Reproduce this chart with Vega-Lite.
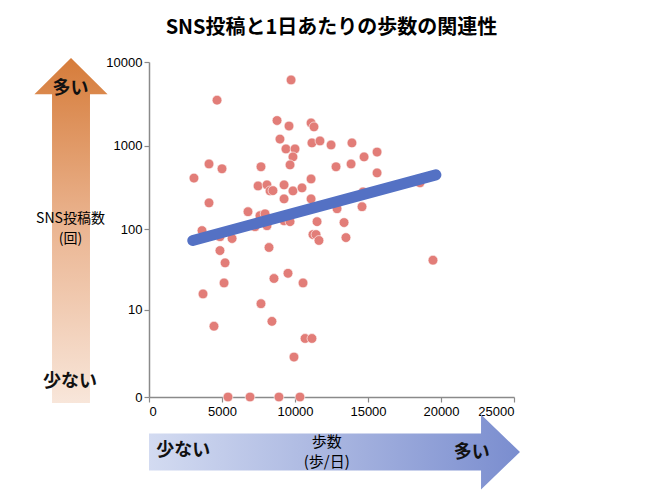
{
  "$schema": "https://vega.github.io/schema/vega-lite/v6.json",
  "autosize": "none",
  "width": 365,
  "height": 335,
  "padding": {"left": 149, "top": 62, "right": 136, "bottom": 97},
  "background": "white",
  "title": {
    "text": "SNS投稿と1日あたりの歩数の関連性",
    "font": "Noto Sans CJK JP",
    "fontSize": 20,
    "fontWeight": "bold",
    "color": "#000000",
    "anchor": "middle",
    "frame": "group",
    "offset": 18
  },
  "config": {
    "view": {"stroke": null},
    "axis": {
      "grid": false,
      "domainColor": "#8a8a8a",
      "domainWidth": 1.5,
      "tickColor": "#8a8a8a",
      "tickWidth": 1.2,
      "tickSize": 5,
      "labelColor": "#000000",
      "labelFont": "Liberation Sans",
      "labelFontSize": 13
    }
  },
  "datasets": {
    "posts": [
      {"steps": 9730, "posts": 6100},
      {"steps": 4660, "posts": 3500},
      {"steps": 8770, "posts": 2000},
      {"steps": 9590, "posts": 1720},
      {"steps": 11100, "posts": 1870},
      {"steps": 11300, "posts": 1680},
      {"steps": 8970, "posts": 1200},
      {"steps": 11160, "posts": 1080},
      {"steps": 11710, "posts": 1140},
      {"steps": 12470, "posts": 1020},
      {"steps": 9380, "posts": 915},
      {"steps": 10000, "posts": 915},
      {"steps": 9860, "posts": 735},
      {"steps": 9660, "posts": 590},
      {"steps": 12810, "posts": 560},
      {"steps": 4110, "posts": 605},
      {"steps": 5000, "posts": 530},
      {"steps": 3080, "posts": 410},
      {"steps": 7670, "posts": 560},
      {"steps": 11100, "posts": 400},
      {"steps": 7470, "posts": 330},
      {"steps": 8080, "posts": 340},
      {"steps": 8290, "posts": 288},
      {"steps": 8490, "posts": 290},
      {"steps": 9250, "posts": 340},
      {"steps": 9860, "posts": 288},
      {"steps": 10480, "posts": 313},
      {"steps": 9250, "posts": 231},
      {"steps": 11100, "posts": 231},
      {"steps": 4110, "posts": 207},
      {"steps": 6780, "posts": 162},
      {"steps": 7600, "posts": 145},
      {"steps": 7950, "posts": 153},
      {"steps": 9250, "posts": 126},
      {"steps": 9660, "posts": 123},
      {"steps": 11510, "posts": 123},
      {"steps": 12880, "posts": 176},
      {"steps": 3630, "posts": 96},
      {"steps": 8080, "posts": 110},
      {"steps": 7260, "posts": 107},
      {"steps": 13900, "posts": 1080},
      {"steps": 13840, "posts": 605},
      {"steps": 14730, "posts": 735},
      {"steps": 15620, "posts": 840},
      {"steps": 15620, "posts": 473},
      {"steps": 14660, "posts": 280},
      {"steps": 14590, "posts": 186},
      {"steps": 13360, "posts": 120},
      {"steps": 18560, "posts": 360},
      {"steps": 4860, "posts": 81},
      {"steps": 5690, "posts": 77},
      {"steps": 4860, "posts": 55},
      {"steps": 5210, "posts": 39},
      {"steps": 5140, "posts": 22},
      {"steps": 3700, "posts": 16},
      {"steps": 8220, "posts": 60},
      {"steps": 11230, "posts": 86},
      {"steps": 11440, "posts": 86},
      {"steps": 11640, "posts": 73},
      {"steps": 8560, "posts": 25},
      {"steps": 9520, "posts": 29},
      {"steps": 10550, "posts": 22},
      {"steps": 7670, "posts": 12},
      {"steps": 4450, "posts": 6},
      {"steps": 8420, "posts": 7},
      {"steps": 10690, "posts": 4},
      {"steps": 11160, "posts": 4},
      {"steps": 9930, "posts": 2},
      {"steps": 5410, "posts": 0},
      {"steps": 6920, "posts": 0},
      {"steps": 8900, "posts": 0},
      {"steps": 10340, "posts": 0},
      {"steps": 13490, "posts": 79},
      {"steps": 19450, "posts": 42},
      {"steps": 8770, "posts": 137}
    ],
    "trend": [
      {"steps": 3000, "posts": 73},
      {"steps": 19650, "posts": 448}
    ],
    "one": [{}]
  },
  "layer": [
    {
      "data": {"name": "posts"},
      "mark": {"type": "circle", "size": 95, "color": "#e27d78", "opacity": 1, "stroke": "#ffffff", "strokeWidth": 0.6},
      "encoding": {
        "x": {
          "field": "steps", "type": "quantitative",
          "scale": {"domain": [0, 25000], "nice": false, "zero": true},
          "axis": {
            "values": [0, 5000, 10000, 15000, 20000, 25000],
            "format": "d",
            "labelPadding": 3,
            "title": null
          }
        },
        "y": {
          "field": "posts", "type": "quantitative",
          "scale": {"type": "symlog", "constant": 1, "domain": [0, 10000], "nice": false},
          "axis": {
            "values": [0, 10, 100, 1000, 10000],
            "format": "d",
            "labelPadding": 2,
            "title": null
          }
        }
      }
    },
    {
      "data": {"name": "trend"},
      "mark": {"type": "line", "color": "#5471c4", "strokeWidth": 11, "strokeCap": "round"},
      "encoding": {
        "x": {"field": "steps", "type": "quantitative"},
        "y": {"field": "posts", "type": "quantitative"}
      }
    },
    {
      "data": {"name": "one"},
      "mark": {
        "type": "point",
        "shape": "M0,-1 L0.212,-0.791 L0.11,-0.791 L0.11,1 L-0.11,1 L-0.11,-0.791 L-0.212,-0.791 Z",
        "size": 119025,
        "filled": true,
        "opacity": 1,
        "strokeWidth": 0,
        "fill": {
          "gradient": "linear", "x1": 0, "y1": 1, "x2": 0, "y2": 0,
          "stops": [
            {"offset": 0, "color": "#f8e6da"},
            {"offset": 0.5, "color": "#ebb693"},
            {"offset": 1, "color": "#d67c3a"}
          ]
        }
      },
      "encoding": {
        "x": {"datum": -5342, "type": "quantitative"},
        "y": {"datum": 96, "type": "quantitative"}
      }
    },
    {
      "data": {"name": "one"},
      "mark": {
        "type": "point",
        "shape": "M-1,-0.1 L0.79,-0.1 L0.79,-0.202 L1,0 L0.79,0.202 L0.79,0.1 L-1,0.1 Z",
        "size": 137641,
        "filled": true,
        "opacity": 1,
        "strokeWidth": 0,
        "fill": {
          "gradient": "linear", "x1": 0, "y1": 0, "x2": 1, "y2": 0,
          "stops": [
            {"offset": 0, "color": "#d3dbf1"},
            {"offset": 0.5, "color": "#a8b5e0"},
            {"offset": 1, "color": "#7a8dcf"}
          ]
        }
      },
      "encoding": {
        "x": {"datum": 12705, "type": "quantitative"},
        "y": {"datum": -3.536, "type": "quantitative"}
      }
    },
    {
      "data": {"name": "one"},
      "mark": {"type": "text", "text": "SNS投稿数", "font": "Noto Sans CJK JP", "fontSize": 14, "color": "#000000", "align": "center", "baseline": "middle"},
      "encoding": {
        "x": {"datum": -5377, "type": "quantitative"},
        "y": {"datum": 132.5, "type": "quantitative"}
      }
    },
    {
      "data": {"name": "one"},
      "mark": {"type": "text", "text": "(回)", "font": "Noto Sans CJK JP", "fontSize": 14, "color": "#000000", "align": "center", "baseline": "middle"},
      "encoding": {
        "x": {"datum": -5377, "type": "quantitative"},
        "y": {"datum": 76, "type": "quantitative"}
      }
    },
    {
      "data": {"name": "one"},
      "mark": {"type": "text", "text": "歩数", "font": "Noto Sans CJK JP", "fontSize": 15, "color": "#000000", "align": "center", "baseline": "middle"},
      "encoding": {
        "x": {"datum": 12171, "type": "quantitative"},
        "y": {"datum": -2.475, "type": "quantitative"}
      }
    },
    {
      "data": {"name": "one"},
      "mark": {"type": "text", "text": "(歩/日)", "font": "Noto Sans CJK JP", "fontSize": 15, "color": "#000000", "align": "center", "baseline": "middle"},
      "encoding": {
        "x": {"datum": 12171, "type": "quantitative"},
        "y": {"datum": -5.03, "type": "quantitative"}
      }
    },
    {
      "data": {"name": "one"},
      "mark": {"type": "text", "text": "多い", "font": "Noto Sans CJK JP", "fontSize": 18, "fontWeight": "bold", "color": "#111111", "align": "center", "baseline": "middle"},
      "encoding": {
        "x": {"datum": -5377, "type": "quantitative"},
        "y": {"datum": 4697, "type": "quantitative"}
      }
    },
    {
      "data": {"name": "one"},
      "mark": {"type": "text", "text": "少ない", "font": "Noto Sans CJK JP", "fontSize": 18, "fontWeight": "bold", "color": "#111111", "align": "center", "baseline": "middle"},
      "encoding": {
        "x": {"datum": -5411, "type": "quantitative"},
        "y": {"datum": 0.531, "type": "quantitative"}
      }
    },
    {
      "data": {"name": "one"},
      "mark": {"type": "text", "text": "少ない", "font": "Noto Sans CJK JP", "fontSize": 18, "fontWeight": "bold", "color": "#111111", "align": "center", "baseline": "middle"},
      "encoding": {
        "x": {"datum": 2349, "type": "quantitative"},
        "y": {"datum": -3.375, "type": "quantitative"}
      }
    },
    {
      "data": {"name": "one"},
      "mark": {"type": "text", "text": "多い", "font": "Noto Sans CJK JP", "fontSize": 18, "fontWeight": "bold", "color": "#111111", "align": "center", "baseline": "middle"},
      "encoding": {
        "x": {"datum": 22101, "type": "quantitative"},
        "y": {"datum": -3.6, "type": "quantitative"}
      }
    }
  ]
}
